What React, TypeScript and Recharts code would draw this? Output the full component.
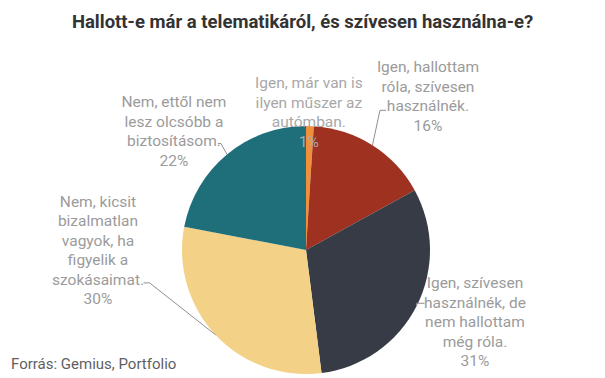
import { PieChart, Pie, Cell } from 'recharts';

const answers = [
  ['Igen, már van is', 'ilyen műszer az', 'autómban.'],
  ['Igen, hallottam', 'róla, szívesen', 'használnék.'],
  ['Igen, szívesen', 'használnék, de', 'nem hallottam', 'még róla.'],
  ['Nem, kicsit', 'bizalmatlan', 'vagyok, ha', 'figyelik a', 'szokásaimat.'],
  ['Nem, ettől nem', 'lesz olcsóbb a', 'biztosításom.'],
];
const shares = [1, 16, 31, 30, 22];
const colors = ['#F0903C', '#9F3121', '#373B45', '#F3D186', '#1F6F7B'];

// label placement relative to the slice's outer edge point at its mid angle
const labelShift = [
  [-1, -38],
  [55.5, -73],
  [58.5, -18],
  [-117.6, -128],
  [-53, -47],
];
// leader elbow relative to edge point, then a short horizontal tail
const leaderElbow: (number[] | null)[] = [
  null,
  [7.5, -35, 6],
  [0, -3, 8],
  [-66, -52, -6],
  [-6, -11, -3],
];

const data = shares.map((v, i) => ({ name: answers[i].join(' '), value: v }));
const RADIAN = Math.PI / 180;
const LINE_H = 19.5;

function renderLabel(props: any) {
  const { cx, cy, midAngle, outerRadius, index, value } = props;
  const ex = cx + outerRadius * Math.cos(-midAngle * RADIAN);
  const ey = cy + outerRadius * Math.sin(-midAngle * RADIAN);
  const [dx, dy] = labelShift[index];
  const lines = [...answers[index], `${value}%`];
  const el = leaderElbow[index];
  return (
    <g key={`lbl-${index}`}>
      {el && (
        <polyline
          points={`${ex},${ey} ${ex + el[0]},${ey + el[1]} ${ex + el[0] + el[2]},${ey + el[1]}`}
          fill="none"
          stroke="#8f8f8f"
          strokeWidth={1}
        />
      )}
      <text
        x={ex + dx}
        y={ey + dy}
        textAnchor="middle"
        fill={index === 0 ? '#a8a8a8' : '#9b9b9b'}
        fontSize={15.5}
        fontFamily="Roboto, sans-serif"
      >
        {lines.map((t, i) => (
          <tspan key={i} x={ex + dx} dy={i === 0 ? 0 : LINE_H}>
            {t}
          </tspan>
        ))}
      </text>
    </g>
  );
}

export default function App() {
  return (
    <div
      style={{
        position: 'absolute',
        left: 0,
        top: 0,
        width: 605,
        height: 378,
        background: '#fff',
        fontFamily: 'Roboto, sans-serif',
      }}
    >
      <div
        style={{
          position: 'absolute',
          top: 11,
          left: 0,
          width: 605,
          textAlign: 'center',
          fontSize: 18.5,
          fontWeight: 700,
          color: '#333333',
        }}
      >
        Hallott-e már a telematikáról, és szívesen használna-e?
      </div>
      <PieChart
        width={605}
        height={378}
        margin={{ top: 0, right: 0, bottom: 0, left: 0 }}
        style={{ position: 'absolute', left: 0, top: 0 }}
      >
        <Pie
          data={data}
          dataKey="value"
          cx={306}
          cy={250}
          outerRadius={124}
          startAngle={90}
          endAngle={-270}
          stroke="none"
          labelLine={false}
          label={renderLabel}
          isAnimationActive={false}
        >
          {data.map((_, i) => (
            <Cell key={i} fill={colors[i]} />
          ))}
        </Pie>
      </PieChart>
      <div
        style={{
          position: 'absolute',
          left: 11,
          top: 355,
          fontSize: 15,
          color: '#5f5f5f',
        }}
      >
        Forrás: Gemius, Portfolio
      </div>
    </div>
  );
}
